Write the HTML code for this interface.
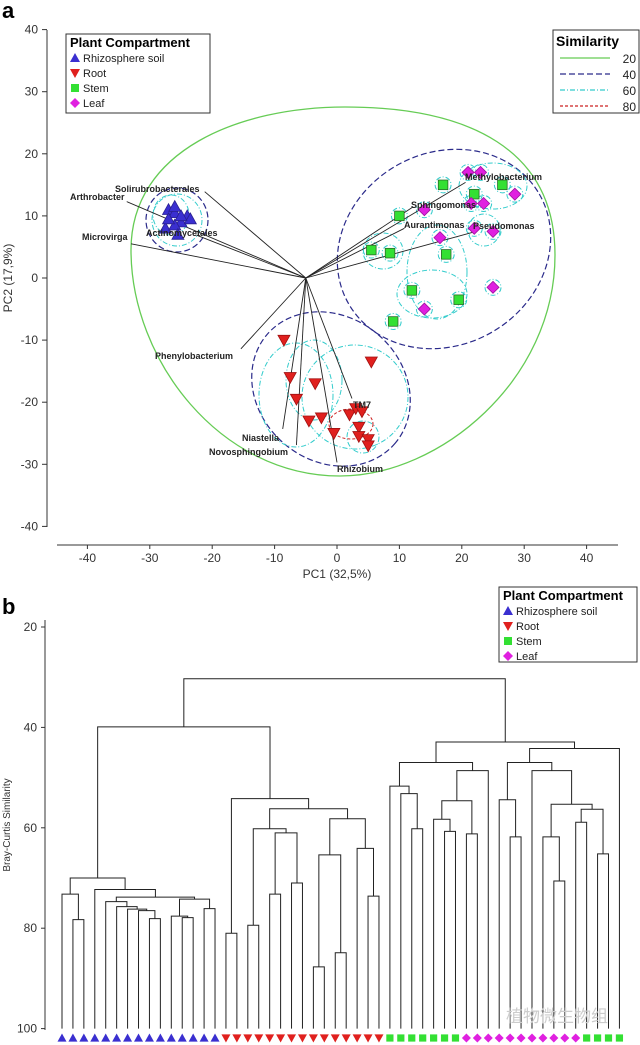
<!DOCTYPE html>
<html><head><meta charset="utf-8"><style>
body{margin:0;background:#fff;}
svg{display:block;font-family:"Liberation Sans","Noto Sans CJK SC",sans-serif;}
</style></head><body>
<svg id="fig" width="640" height="1045" viewBox="0 0 640 1045">
<text x="2" y="18" font-size="22" font-weight="bold">a</text>
<text x="2" y="614" font-size="22" font-weight="bold">b</text>
<g id="pca"></g>
<g id="dendro"></g>
<text x="608" y="1022" font-size="17" fill="#ccc" text-anchor="end">植物微生物组</text>
</svg>
<script>
// ---------- PCA data ----------
const pcaTicks = [-40,-30,-20,-10,0,10,20,30,40];
const rhizoX = [-27,-26,-25,-24,-23.5,-27.5,-26,-25.5,-26,-27,-25];
const rhizoY = [11,10.5,9,10,9.5,8,8.5,7,11.5,9.5,10];
const rootX = [-8.5,-7.5,-6.5,-3.5,-4.5,-2.5,-0.5,5.5,2,3,3.5,3.5,5,5,4];
const rootY = [-10,-16,-19.5,-17,-23,-22.5,-25,-13.5,-22,-21,-24,-25.5,-26,-27,-21.5];
const stemX = [17,22,26.5,10,5.5,8.5,17.5,12,19.5,9];
const stemY = [15,13.5,15,10,4.5,4,3.8,-2,-3.5,-7];
const leafX = [21,23,28.5,21.5,23.5,14,22,25,16.5,25,14];
const leafY = [17,17,13.5,12,12,11,8,7.5,6.5,-1.5,-5];
const vecNames = ["Solirubrobacterales","Arthrobacter","Actinomycetales","Microvirga","Phenylobacterium","Niastella","Novosphingobium","Rhizobium","TM7","Methylobacterium","Sphingomonas","Aurantimonas","Pseudomonas"];
const vecX = [-21.2,-33.7,-22.5,-33,-15.4,-8.7,-6.5,0,2.4,20.6,12.1,10.8,21.9];
const vecY = [13.9,12.3,6.9,5.5,-11.4,-24.3,-26.9,-29.7,-19.4,15.4,11.4,8,7.4];
const vecOriginX = -5, vecOriginY = 0;

// ---------- Dendrogram data ----------
const leafTypes = [0,0,0,0,0,0,0,0,0,0,0,0,0,0,0, 1,1,1,1,1,1,1,1,1,1,1,1,1,1,1, 2,2,2,2,2,2,2, 3,3,3,3,3,3,3,3,3,3,3, 2,2,2,2];
const mergeLeft  = [1,0,8,7,6,5,4,11,10,13,60,58,3,53, 15,17,19,21,68,67,23,25,72,28,27,74,71,66,65, 32,31,30,35,34,37,85,87,83,41,40,45,44,47,49,94,93,43,91,99,89,80];
const mergeRight = [2,52,9,54,55,56,57,12,59,14,61,62,63,64, 16,18,20,22,69,70,24,26,73,29,75,76,77,78,79, 33,81,82,36,84,38,86,39,88,42,90,46,92,48,50,95,96,97,98,51,100,101];
const mergeSim   = [78.3,73.2,78.1,76.5,76.2,75.7,74.7,77.9,77.6,76.1,74.2,73.8,72.3,70.0, 81.0,79.4,73.2,71.0,61.0,60.2,87.7,84.9,65.4,73.6,64.1,58.2,56.2,54.2,39.9, 60.2,53.2,51.7,60.7,58.3,61.2,54.6,48.6,47.0,61.8,54.4,70.6,61.8,58.9,65.2,56.3,55.3,48.6,47.0,44.2,42.9,30.3];
const dTicks = [20,40,60,80,100];

const NS="http://www.w3.org/2000/svg";
function mk(tag,attrs,parent){const e=document.createElementNS(NS,tag);for(const k in attrs)e.setAttribute(k,attrs[k]);parent.appendChild(e);return e;}
const colors=["#3a2fd0","#e0201e","#33e033","#e020e0"];
const edges=["#2a2090","#a01010","#2a6a2a","#a010a0"];
function marker(type,cx,cy,s,parent){
  let e;
  if(type===0) e=mk("polygon",{points:`${cx},${cy-s} ${cx+s},${cy+s*0.8} ${cx-s},${cy+s*0.8}`,fill:colors[0]},parent);
  else if(type===1) e=mk("polygon",{points:`${cx-s},${cy-s*0.8} ${cx+s},${cy-s*0.8} ${cx},${cy+s}`,fill:colors[1]},parent);
  else if(type===2) e=mk("rect",{x:cx-s*0.8,y:cy-s*0.8,width:s*1.6,height:s*1.6,fill:colors[2]},parent);
  else e=mk("polygon",{points:`${cx},${cy-s} ${cx+s},${cy} ${cx},${cy+s} ${cx-s},${cy}`,fill:colors[3]},parent);
  return e;
}

// ---------- PCA ----------
const P=document.getElementById("pca");
const sx=v=>337+v*6.24, sy=v=>278-v*6.21;
let yAxis=mk("line",{x1:47,y1:30,x2:47,y2:527,stroke:"#333"},P);


let xAxis=mk("line",{x1:57,y1:545,x2:618,y2:545,stroke:"#333"},P);


pcaTicks.forEach(t=>{
  mk("line",{x1:42,y1:sy(t),x2:47,y2:sy(t),stroke:"#333"},P);
  let ty=mk("text",{x:38,y:sy(t)+4,"font-size":12,"text-anchor":"end",fill:"#333"},P);
  ty.textContent=t;
  
  
  mk("line",{x1:sx(t),y1:545,x2:sx(t),y2:549,stroke:"#333"},P);
  let tx=mk("text",{x:sx(t),y:562,"font-size":12,"text-anchor":"middle",fill:"#333"},P);
  tx.textContent=t;
  
  
});
let xl=mk("text",{x:337,y:578,"font-size":12,"text-anchor":"middle",fill:"#333"},P);
xl.textContent="PC1 (32,5%)";


let yl=mk("text",{x:0,y:0,"font-size":12,"text-anchor":"middle",fill:"#333",transform:"translate(12,278) rotate(-90)"},P);
yl.textContent="PC2 (17,9%)";



const g20=mk("path",{d:"M131,250 C131,150 240,107 345,107 C470,107 555,150 555,255 C555,380 440,476 340,476 C220,476 131,360 131,250 Z",fill:"none",stroke:"#66cc55","stroke-width":1.3},P);


const blue={fill:"none",stroke:"#2a2a8a","stroke-width":1.2,"stroke-dasharray":"6,3"};
[[177,220,31,32,0],[444,249,110,96,-30],[331,389,84,72,40]].forEach(e=>{
  let el=mk("ellipse",Object.assign({cx:e[0],cy:e[1],rx:e[2],ry:e[3],transform:`rotate(${e[4]} ${e[0]} ${e[1]})`},blue),P);
  
  
});
const cyan={fill:"none",stroke:"#33cccc","stroke-width":1,"stroke-dasharray":"5,2,1,2"};
[[177,220,25,26],[171,215,18,20],[296,395,37,52],[355,397,53,52],[363,437,16,16],[432,294,35,24],[437,272,30,47],[383,251,20,18],[493,186,34,23],[484,230,16,16],[314,380,28,40]].forEach(e=>{
  let el=mk("ellipse",Object.assign({cx:e[0],cy:e[1],rx:e[2],ry:e[3]},cyan),P);
  
  
});
stemX.forEach((v,i)=>{let c=mk("circle",Object.assign({cx:sx(v),cy:sy(stemY[i]),r:8},cyan),P);});
leafX.forEach((v,i)=>{let c=mk("circle",Object.assign({cx:sx(v),cy:sy(leafY[i]),r:8},cyan),P);});
let r80=mk("ellipse",{cx:351,cy:424,rx:22,ry:15,fill:"none",stroke:"#cc2222","stroke-width":1,"stroke-dasharray":"3,2"},P);



vecNames.forEach((n,i)=>{
  let ln=mk("line",{x1:sx(vecOriginX),y1:sy(vecOriginY),x2:sx(vecX[i]),y2:sy(vecY[i]),stroke:"#222","stroke-width":0.9},P);
  
  
});
[[rhizoX,rhizoY,0],[rootX,rootY,1],[stemX,stemY,2],[leafX,leafY,3]].forEach(s=>{
  s[0].forEach((v,i)=>{
    let m=marker(s[2],sx(v),sy(s[1][i]),6,P);
    m.setAttribute("stroke",edges[s[2]]);m.setAttribute("stroke-width","0.8");
    
    
  });
});
const labPos=[[115,192,"start"],[70,200,"start"],[146,236,"start"],[82,240,"start"],[155,359,"start"],[242,441,"start"],[209,455,"start"],[337,472,"start"],[353,408,"start"],[465,180,"start"],[411,208,"start"],[404,228,"start"],[473,229,"start"]];
vecNames.forEach((n,i)=>{
  let t=mk("text",{x:labPos[i][0],y:labPos[i][1],"font-size":9,"font-weight":"bold",fill:"#222","text-anchor":labPos[i][2]},P);
  t.textContent=n;
  
  
});

function compLegend(x,y,w,h,parent,name){
  const g=mk("g",{},parent);
  
  
  mk("rect",{x:x,y:y,width:w,height:h,fill:"#fff",stroke:"#333"},g);
  let t=mk("text",{x:x+4,y:y+13,"font-size":13,"font-weight":"bold"},g);t.textContent="Plant Compartment";
  ["Rhizosphere soil","Root","Stem","Leaf"].forEach((n,i)=>{
    const yy=y+24+i*15;
    marker(i,x+9,yy,5,g);
    let tt=mk("text",{x:x+17,y:yy+4,"font-size":11,fill:"#222"},g);tt.textContent=n;
    
    
  });
}
compLegend(66,34,144,79,P,"compartment-legend");
const sl=mk("g",{},P);


mk("rect",{x:553,y:30,width:86,height:83,fill:"#fff",stroke:"#333"},sl);
let st=mk("text",{x:556,y:46,"font-size":14,"font-weight":"bold"},sl);st.textContent="Similarity";
const sCols=[["#66cc55",""],["#2a2a8a","6,3"],["#33cccc","5,2,1,2"],["#cc2222","3,2"]];
["20","40","60","80"].forEach((n,i)=>{
  const yy=58+i*16;
  mk("line",{x1:560,y1:yy,x2:610,y2:yy,stroke:sCols[i][0],"stroke-width":1.3,"stroke-dasharray":sCols[i][1]},sl);
  let tt=mk("text",{x:636,y:yy+5,"font-size":12,"text-anchor":"end",fill:"#222"},sl);tt.textContent=n;
  
  
});

// ---------- Dendrogram ----------
const D=document.getElementById("dendro");
const lx=i=>62+i*10.93, dy=s=>627+(s-20)*5.02;
let da=mk("line",{x1:45,y1:620,x2:45,y2:1030,stroke:"#333"},D);


dTicks.forEach(t=>{
  mk("line",{x1:41,y1:dy(t),x2:45,y2:dy(t),stroke:"#333"},D);
  let tl=mk("text",{x:37,y:dy(t)+4,"font-size":12,"text-anchor":"end",fill:"#333"},D);
  tl.textContent=t;
  
  
});
let dyl=mk("text",{x:0,y:0,"font-size":10,"text-anchor":"middle",fill:"#333",transform:"translate(10,825) rotate(-90)"},D);
dyl.textContent="Bray-Curtis Similarity";


const nodeX=[],nodeY=[];
leafTypes.forEach((t,i)=>{nodeX[i]=lx(i);nodeY[i]=dy(100);});
const N=leafTypes.length;
mergeLeft.forEach((a,k)=>{
  const b=mergeRight[k],yy=dy(mergeSim[k]);
  const id=N+k;
  nodeX[id]=(nodeX[a]+nodeX[b])/2;nodeY[id]=yy;
  let p=mk("path",{d:`M${nodeX[a]},${nodeY[a]} V${yy} H${nodeX[b]} V${nodeY[b]}`,fill:"none",stroke:"#222","stroke-width":1},D);
  
  
});
leafTypes.forEach((t,i)=>{
  let m=marker(t,lx(i),1038,4.5,D);
  
  
});
compLegend(499,587,138,75,D,"dendrogram-legend");
</script>
</body></html>
